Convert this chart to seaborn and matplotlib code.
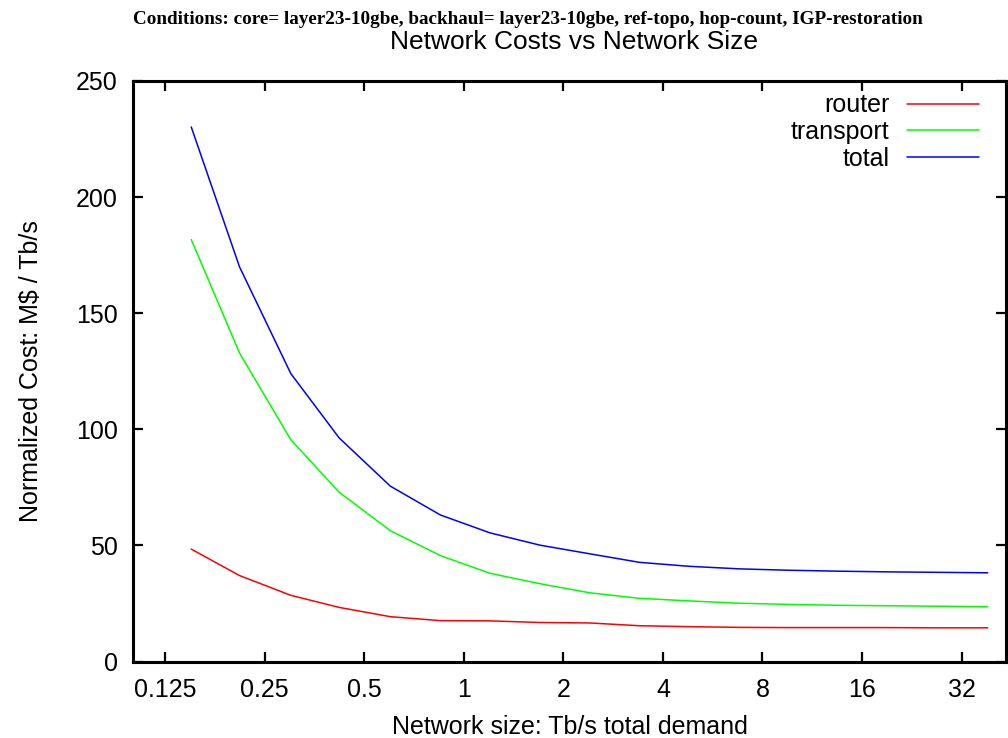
import matplotlib
matplotlib.use("Agg")
import matplotlib.pyplot as plt
import matplotlib.ticker as mticker
import seaborn as sns
import pandas as pd

# Data
network_size = [0.15, 0.21, 0.3, 0.42, 0.6, 0.85, 1.2, 1.7, 2.4, 3.4,
                4.8, 6.8, 9.6, 13.6, 19.2, 27.2, 38.4]
router = [48.4, 37.0, 28.5, 23.3, 19.3, 17.6, 17.5, 16.8, 16.6, 15.4,
          15.0, 14.7, 14.6, 14.6, 14.6, 14.5, 14.5]
transport = [181.7, 132.8, 95.5, 72.9, 56.3, 45.6, 38.0, 33.5, 29.6, 27.2,
             26.1, 25.1, 24.6, 24.2, 24.0, 23.8, 23.6]
total = [230.2, 169.9, 124.0, 96.3, 75.5, 63.1, 55.4, 50.1, 46.4, 42.7,
         41.0, 39.9, 39.3, 38.9, 38.6, 38.4, 38.2]
series_names = ["router", "transport", "total"]
series_colors = ["#ff0000", "#00ff00", "#0000ff"]
x_ticks = [0.125, 0.25, 0.5, 1, 2, 4, 8, 16, 32]
x_tick_labels = ["0.125", "0.25", "0.5", "1", "2", "4", "8", "16", "32"]
y_ticks = [0, 50, 100, 150, 200, 250]

df = pd.concat([
    pd.DataFrame({"size": network_size, "cost": vals, "series": name})
    for name, vals in zip(series_names, [router, transport, total])
], ignore_index=True)

sns.set_theme(style="white")
plt.rcParams["font.family"] = ["Liberation Sans", "DejaVu Sans"]
plt.rcParams["text.color"] = "black"

fig = plt.figure(figsize=(10.08, 7.38), dpi=100)
ax = fig.add_axes([133 / 1008, 1 - 661.5 / 738, (1006 - 133) / 1008, (661.5 - 81) / 738])

sns.lineplot(data=df, x="size", y="cost", hue="series", hue_order=series_names,
             palette=series_colors, linewidth=1.1, ax=ax, sort=False)

ax.set_xscale("log", base=2)
ax.set_xlim(0.1, 43.6)
ax.set_ylim(0, 250)
ax.set_xticks(x_ticks)
ax.set_xticklabels(x_tick_labels)
ax.xaxis.set_minor_locator(mticker.NullLocator())
ax.set_yticks(y_ticks)

for s in ax.spines.values():
    s.set_visible(True)
    s.set_color("black")
    s.set_linewidth(2.2)

ax.tick_params(axis="both", which="major", direction="in", length=7.5, width=1.6,
               colors="black", labelsize=18, top=True, right=True, bottom=True, left=True)
ax.tick_params(axis="x", pad=12)
ax.tick_params(axis="y", pad=11)

ax.set_xlabel("Network size: Tb/s total demand", fontsize=18, labelpad=9, color="black")
ax.set_ylabel("Normalized Cost: M$ / Tb/s", fontsize=18, labelpad=24, color="black")

leg = ax.legend(loc="upper right", frameon=False, fontsize=18, markerfirst=False,
                handlelength=2.9, handletextpad=0.7, labelspacing=0.11,
                borderaxespad=0.0, bbox_to_anchor=(0.981, 0.996), labelcolor="black")
for line in leg.get_lines():
    line.set_linewidth(1.1)

fig.text(574 / 1008, 1 - 42 / 738, "Network Costs vs Network Size", fontsize=19,
         ha="center", va="center", color="black")
fig.text(528 / 1008, 1 - 20 / 738,
         "Conditions: core= layer23-10gbe, backhaul= layer23-10gbe, ref-topo, hop-count, IGP-restoration",
         fontsize=13.8, fontweight="bold", family="Liberation Serif",
         ha="center", va="center", color="black")

fig.savefig("out.png", dpi=100)
